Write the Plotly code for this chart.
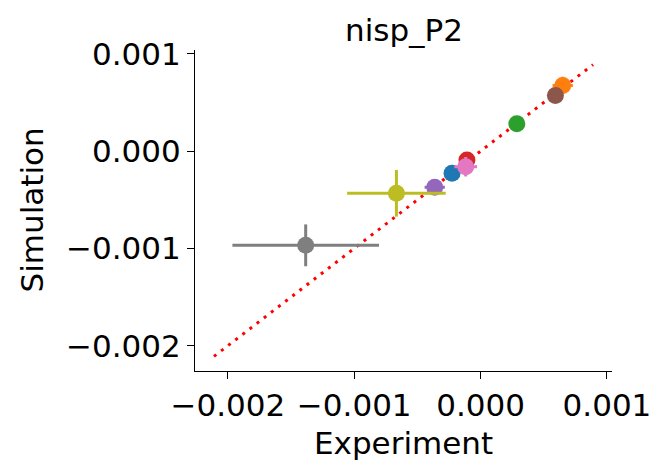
import plotly.graph_objects as go

# Experiment vs simulation values, one point per sample (tab10 colour order)
colors = ["#1f77b4", "#ff7f0e", "#2ca02c", "#d62728", "#9467bd",
          "#8c564b", "#e377c2", "#7f7f7f", "#bcbd22"]
experiment = [-0.000226, 0.00065, 0.000287, -0.000108, -0.000363,
              0.000592, -0.000118, -0.001384, -0.000666]
simulation = [-0.000228, 0.000675, 0.000283, -0.000092, -0.000371,
              0.000573, -0.00016, -0.000968, -0.000433]
experiment_err = [0.00003, 0.00008, 0.00003, 0.00004, 0.00008,
                  0.00003, 0.00009, 0.00058, 0.00039]
simulation_err = [0.00003, 0.00009, 0.00003, 0.00006, 0.00003,
                  0.00003, 0.0001, 0.000215, 0.00024]

# identity line extent
line_range = [-0.00211, 0.00089]

tick_vals = [-0.002, -0.001, 0.0, 0.001]
tick_text = ["\u22120.002", "\u22120.001", "0.000", "0.001"]

FONT = "DejaVu Sans"
FS = 31

fig = go.Figure()

fig.add_trace(go.Scatter(
    x=line_range, y=line_range, mode="lines",
    line=dict(color="red", width=3, dash="3px,6px"),
    showlegend=False, hoverinfo="skip",
))

for xv, yv, xe, ye, c in zip(experiment, simulation, experiment_err,
                             simulation_err, colors):
    fig.add_trace(go.Scatter(
        x=[xv], y=[yv], mode="markers",
        marker=dict(color=c, size=17, line=dict(width=0)),
        error_x=dict(type="data", array=[xe], color=c, thickness=3, width=0),
        error_y=dict(type="data", array=[ye], color=c, thickness=3, width=0),
        showlegend=False,
    ))

span = line_range[1] - line_range[0]
axis_range = [line_range[0] - 0.05 * span, line_range[1] + 0.05 * span]

axis_common = dict(
    range=axis_range, autorange=False, automargin=False,
    tickvals=tick_vals, ticktext=tick_text,
    showgrid=False, zeroline=False,
    showline=True, linecolor="black", linewidth=1.2,
    ticks="outside", ticklen=7, tickwidth=1.2, tickcolor="black",
    tickfont=dict(family=FONT, size=FS, color="black"),
    mirror=False,
)

fig.update_layout(
    width=657, height=464,
    margin=dict(l=195, r=45, t=50, b=93, autoexpand=False),
    paper_bgcolor="white", plot_bgcolor="white",
    xaxis=axis_common,
    yaxis=axis_common,
    font=dict(family=FONT, size=FS, color="black"),
    annotations=[
        dict(text="nisp_P2", x=0.5, y=1, xref="paper", yref="paper",
             xanchor="center", yanchor="bottom", yshift=0, showarrow=False,
             font=dict(family=FONT, size=FS, color="black")),
        dict(text="Experiment", x=0.5, y=0, xref="paper", yref="paper",
             xanchor="center", yanchor="top", yshift=-52, showarrow=False,
             font=dict(family=FONT, size=FS, color="black")),
        dict(text="Simulation", x=0, y=0.5, xref="paper", yref="paper",
             xanchor="right", yanchor="middle", xshift=-144, textangle=-90,
             showarrow=False,
             font=dict(family=FONT, size=FS, color="black")),
    ],
)

fig.write_html("out.html")
